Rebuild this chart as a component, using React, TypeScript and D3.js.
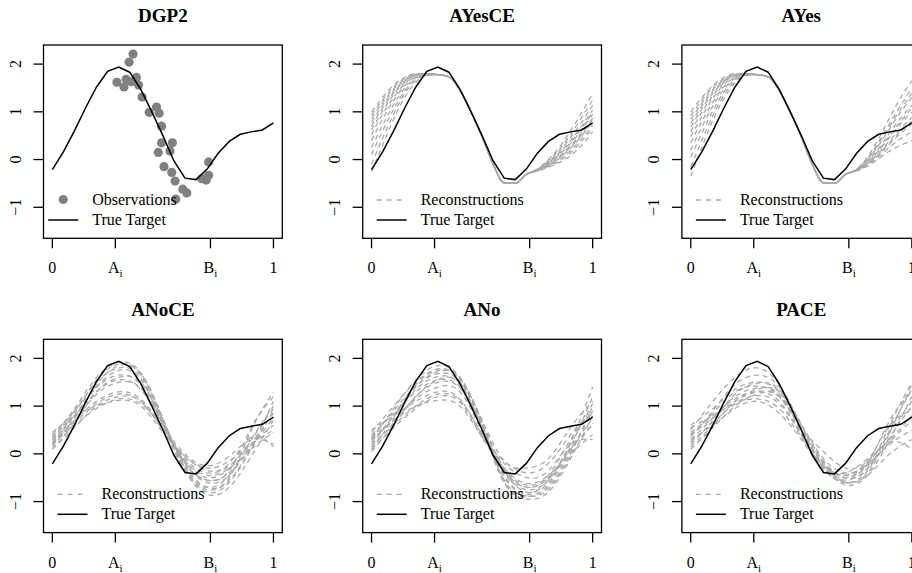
import React from "react";
import * as d3 from "d3";

// ---------- data ----------
const xGrid21 = [0, 0.05, 0.1, 0.15, 0.2, 0.25, 0.3, 0.35, 0.4, 0.45, 0.5, 0.55, 0.6, 0.65, 0.7, 0.75, 0.8, 0.85, 0.9, 0.95, 1];
const xGrid11 = [0, 0.1, 0.2, 0.3, 0.4, 0.5, 0.6, 0.7, 0.8, 0.9, 1];

const trueTarget = [-0.21, 0.16, 0.6, 1.08, 1.52, 1.85, 1.94, 1.83, 1.47, 1.0, 0.5, -0.03, -0.39, -0.42, -0.2, 0.13, 0.38, 0.53, 0.58, 0.62, 0.77];

const obsX = [0.292, 0.324, 0.334, 0.347, 0.365, 0.357, 0.38, 0.39, 0.406, 0.438, 0.471, 0.483, 0.494, 0.494, 0.479, 0.505, 0.532, 0.543, 0.54, 0.555, 0.59, 0.608, 0.558, 0.676, 0.696, 0.707, 0.707];
const obsY = [1.62, 1.52, 1.68, 2.04, 2.21, 1.63, 1.72, 1.56, 1.31, 0.99, 1.1, 0.97, 0.7, 0.35, 0.15, -0.15, 0.18, 0.35, -0.27, -0.45, -0.62, -0.7, -0.83, -0.4, -0.43, -0.33, -0.05];

const xTickVals = [0, 0.285, 0.715, 1];
const xTickMain = ["0", "A", "B", "1"];
const xTickSub = ["", "i", "i", ""];
const yTickVals = [-1, 0, 1, 2];
const yTickLabels = ["\u22121", "0", "1", "2"];

const titles = ["DGP2", "AYesCE", "AYes", "ANoCE", "ANo", "PACE"];

// AYes-type reconstructions: shared middle (t = 0.30 .. 0.70)
const ayesMid = [1.78, 1.73, 1.45, 1.0, 0.48, -0.1, -0.49, -0.5, -0.31];

// AYesCE left parts (t = 0 .. 0.25)
const ayesceLeft = [
  [-0.25, 0.3, 0.85, 1.3, 1.62, 1.76],
  [-0.1, 0.45, 0.95, 1.38, 1.66, 1.77],
  [0.1, 0.6, 1.05, 1.44, 1.69, 1.77],
  [0.25, 0.72, 1.15, 1.5, 1.71, 1.78],
  [0.4, 0.85, 1.24, 1.55, 1.73, 1.78],
  [0.52, 0.95, 1.3, 1.59, 1.75, 1.79],
  [0.62, 1.02, 1.36, 1.62, 1.76, 1.79],
  [0.7, 1.08, 1.4, 1.64, 1.77, 1.79],
  [0.78, 1.14, 1.44, 1.66, 1.78, 1.8],
  [0.86, 1.2, 1.48, 1.68, 1.78, 1.8],
  [0.93, 1.25, 1.52, 1.7, 1.79, 1.8],
  [1.0, 1.3, 1.56, 1.72, 1.8, 1.8],
];
// AYesCE right parts (t = 0.75 .. 1)
const ayesceRight = [
  [-0.24, -0.16, -0.06, 0.08, 0.3, 0.58],
  [-0.24, -0.15, -0.03, 0.14, 0.38, 0.66],
  [-0.23, -0.13, 0.0, 0.19, 0.44, 0.72],
  [-0.23, -0.12, 0.03, 0.24, 0.5, 0.8],
  [-0.22, -0.1, 0.07, 0.29, 0.56, 0.87],
  [-0.22, -0.08, 0.1, 0.34, 0.62, 0.95],
  [-0.21, -0.06, 0.14, 0.4, 0.7, 1.04],
  [-0.21, -0.04, 0.18, 0.46, 0.78, 1.14],
  [-0.2, -0.02, 0.22, 0.52, 0.88, 1.25],
  [-0.2, 0.0, 0.26, 0.6, 0.98, 1.38],
  [-0.22, -0.11, 0.05, 0.26, 0.52, 0.84],
  [-0.21, -0.07, 0.12, 0.36, 0.65, 0.99],
];
// AYes left parts
const ayesLeft = [
  [-0.35, 0.25, 0.82, 1.28, 1.6, 1.76],
  [-0.15, 0.4, 0.92, 1.35, 1.64, 1.77],
  [0.05, 0.55, 1.02, 1.42, 1.68, 1.77],
  [0.2, 0.68, 1.12, 1.48, 1.7, 1.78],
  [0.35, 0.8, 1.2, 1.53, 1.72, 1.78],
  [0.48, 0.9, 1.28, 1.57, 1.74, 1.79],
  [0.58, 0.99, 1.34, 1.61, 1.76, 1.79],
  [0.68, 1.06, 1.39, 1.63, 1.77, 1.79],
  [0.76, 1.12, 1.43, 1.65, 1.78, 1.8],
  [0.84, 1.18, 1.47, 1.67, 1.78, 1.8],
  [0.92, 1.24, 1.51, 1.69, 1.79, 1.8],
  [1.0, 1.3, 1.55, 1.72, 1.8, 1.8],
];
// AYes right parts
const ayesRight = [
  [-0.24, -0.14, 0.02, 0.18, 0.3, 0.4],
  [-0.24, -0.12, 0.06, 0.26, 0.44, 0.58],
  [-0.23, -0.1, 0.1, 0.33, 0.55, 0.74],
  [-0.23, -0.08, 0.14, 0.4, 0.65, 0.88],
  [-0.22, -0.06, 0.19, 0.47, 0.75, 1.0],
  [-0.22, -0.03, 0.24, 0.56, 0.87, 1.14],
  [-0.21, 0.0, 0.3, 0.65, 1.0, 1.3],
  [-0.21, 0.03, 0.37, 0.76, 1.14, 1.48],
  [-0.2, 0.06, 0.44, 0.88, 1.3, 1.65],
  [-0.22, -0.05, 0.2, 0.5, 0.8, 1.08],
  [-0.23, -0.09, 0.12, 0.36, 0.6, 0.8],
  [-0.21, 0.01, 0.33, 0.7, 1.06, 1.38],
];

// ANoCE reconstructions (t = 0, 0.1, ..., 1)
const anoceCurves = [
  [0.35, 0.95, 1.6, 1.92, 1.7, 0.75, -0.3, -0.8, -0.6, 0.1, 0.9],
  [0.25, 0.85, 1.55, 1.88, 1.65, 0.7, -0.35, -0.85, -0.7, -0.05, 0.7],
  [0.3, 0.9, 1.5, 1.8, 1.6, 0.65, -0.3, -0.75, -0.55, 0.15, 1.1],
  [0.15, 0.75, 1.45, 1.85, 1.68, 0.72, -0.25, -0.7, -0.5, 0.5, 1.3],
  [0.2, 0.8, 1.4, 1.75, 1.55, 0.6, -0.35, -0.7, -0.45, 0.3, 1.0],
  [0.4, 0.9, 1.4, 1.65, 1.45, 0.65, -0.2, -0.6, -0.45, 0.2, 0.85],
  [0.1, 0.65, 1.3, 1.6, 1.5, 0.7, -0.2, -0.55, -0.35, 0.55, 1.2],
  [0.35, 0.8, 1.3, 1.55, 1.35, 0.6, -0.2, -0.55, -0.4, 0.15, 0.75],
  [0.2, 0.7, 1.25, 1.5, 1.38, 0.62, -0.15, -0.5, -0.3, 0.3, 0.95],
  [0.3, 0.7, 1.1, 1.3, 1.15, 0.55, -0.1, -0.4, -0.25, 0.2, 0.6],
  [0.25, 0.65, 1.05, 1.25, 1.1, 0.5, -0.15, -0.45, -0.3, 0.1, 0.45],
  [0.45, 0.8, 1.0, 1.12, 1.0, 0.45, -0.05, -0.3, -0.15, 0.2, 0.5],
  [0.2, 0.6, 0.95, 1.15, 1.05, 0.55, 0.0, -0.25, -0.05, 0.3, 0.2],
  [0.1, 0.55, 1.0, 1.2, 1.1, 0.5, -0.05, -0.35, -0.2, 0.35, 0.15],
];

// ANo reconstructions
const anoCurves = [
  [0.3, 0.95, 1.55, 1.85, 1.6, 0.6, -0.6, -0.95, -0.8, -0.1, 0.8],
  [0.45, 1.0, 1.5, 1.78, 1.55, 0.55, -0.6, -0.9, -0.7, 0.0, 1.0],
  [0.2, 0.8, 1.45, 1.75, 1.58, 0.65, -0.55, -0.88, -0.75, -0.05, 0.65],
  [0.1, 0.75, 1.4, 1.72, 1.6, 0.68, -0.35, -0.8, -0.6, 0.15, 1.2],
  [0.35, 0.9, 1.42, 1.68, 1.5, 0.55, -0.45, -0.85, -0.65, 0.05, 0.9],
  [0.25, 0.8, 1.35, 1.62, 1.45, 0.5, -0.5, -0.82, -0.55, 0.25, 1.4],
  [0.4, 0.85, 1.3, 1.55, 1.4, 0.55, -0.35, -0.7, -0.5, 0.2, 1.05],
  [0.15, 0.65, 1.2, 1.5, 1.38, 0.6, -0.3, -0.65, -0.45, 0.3, 0.85],
  [0.3, 0.7, 1.15, 1.4, 1.3, 0.45, -0.4, -0.75, -0.55, 0.1, 0.75],
  [0.2, 0.6, 1.0, 1.25, 1.12, 0.4, -0.35, -0.7, -0.5, 0.1, 0.6],
  [0.1, 0.55, 0.95, 1.2, 1.08, 0.35, -0.3, -0.62, -0.45, 0.0, 0.4],
  [0.35, 0.7, 1.0, 1.12, 1.0, 0.35, -0.2, -0.5, -0.35, 0.2, 0.3],
  [0.5, 0.8, 1.1, 1.3, 1.15, 0.4, -0.15, -0.4, -0.2, 0.4, 0.9],
  [0.05, 0.6, 1.2, 1.55, 1.5, 0.7, -0.15, -0.3, -0.1, 0.55, 1.1],
];

// PACE reconstructions
const paceCurves = [
  [0.5, 1.1, 1.6, 1.8, 1.45, 0.6, -0.2, -0.6, -0.4, 0.45, 1.45],
  [0.35, 0.9, 1.45, 1.65, 1.4, 0.55, -0.25, -0.65, -0.45, 0.3, 1.2],
  [0.6, 0.95, 1.35, 1.5, 1.3, 0.5, -0.3, -0.6, -0.35, 0.5, 1.35],
  [0.2, 0.7, 1.25, 1.48, 1.35, 0.6, -0.15, -0.5, -0.3, 0.6, 1.5],
  [0.4, 0.85, 1.3, 1.42, 1.2, 0.45, -0.3, -0.55, -0.3, 0.35, 1.0],
  [0.3, 0.75, 1.2, 1.38, 1.25, 0.5, -0.2, -0.45, -0.2, 0.45, 1.1],
  [0.15, 0.6, 1.1, 1.35, 1.3, 0.62, -0.1, -0.4, -0.15, 0.6, 0.9],
  [0.45, 0.8, 1.15, 1.3, 1.1, 0.4, -0.3, -0.5, -0.25, 0.25, 0.7],
  [0.25, 0.65, 1.05, 1.22, 1.05, 0.4, -0.25, -0.45, -0.2, 0.2, 0.5],
  [0.55, 0.8, 1.05, 1.15, 0.95, 0.35, -0.25, -0.4, -0.1, 0.3, 0.8],
  [0.3, 0.6, 0.95, 1.1, 0.85, 0.3, -0.32, -0.6, -0.45, 0.0, 0.3],
  [0.1, 0.55, 1.0, 1.25, 1.2, 0.55, 0.05, -0.3, -0.15, 0.25, 0.1],
  [0.4, 0.75, 1.1, 1.3, 1.2, 0.5, -0.2, -0.5, -0.2, 0.7, 1.3],
];

// ---------- layout ----------
const W = 912;
const H = 573;
const BOX_W = 238.8;
const BOX_H = 193.3;
const COL_PITCH = 319.2;
const ROW_PITCH = 294.3;
const BOX_X0 = 43.5;
const BOX_Y0 = 45;

const FONT = "'Liberation Serif', 'Times New Roman', Times, serif";
const RECON_COLOR = "#a9a9a9";
const OBS_COLOR = "#808080";

type PanelSpec = {
  title: string;
  kind: "obs" | "recon";
  curves?: number[][];
  grid?: number[];
  smooth?: d3.CurveFactory;
};

function buildPanels(): PanelSpec[] {
  const ayesce = ayesceLeft.map((l, i) => [...l, ...ayesMid, ...ayesceRight[i]]);
  const ayes = ayesLeft.map((l, i) => [...l, ...ayesMid, ...ayesRight[i]]);
  return [
    { title: titles[0], kind: "obs" },
    { title: titles[1], kind: "recon", curves: ayesce, grid: xGrid21, smooth: d3.curveMonotoneX },
    { title: titles[2], kind: "recon", curves: ayes, grid: xGrid21, smooth: d3.curveMonotoneX },
    { title: titles[3], kind: "recon", curves: anoceCurves, grid: xGrid11, smooth: d3.curveNatural },
    { title: titles[4], kind: "recon", curves: anoCurves, grid: xGrid11, smooth: d3.curveNatural },
    { title: titles[5], kind: "recon", curves: paceCurves, grid: xGrid11, smooth: d3.curveNatural },
  ];
}

function Panel({ spec, idx }: { spec: PanelSpec; idx: number }) {
  const col = idx % 3;
  const row = Math.floor(idx / 3);
  const left = BOX_X0 + col * COL_PITCH;
  const top = BOX_Y0 + row * ROW_PITCH;
  const right = left + BOX_W;
  const bottom = top + BOX_H;

  const x = d3.scaleLinear().domain([-0.04, 1.04]).range([left, right]);
  const y = d3.scaleLinear().domain([-1.65, 2.4]).range([bottom, top]);

  const clipId = `clip-${idx}`;

  const trueLine = d3
    .line<number>()
    .x((_, i) => x(xGrid21[i]))
    .y((d) => y(d))
    .curve(d3.curveLinear);

  let reconPaths: string[] = [];
  if (spec.kind === "recon" && spec.curves && spec.grid) {
    const g = spec.grid;
    const gen = d3
      .line<number>()
      .x((_, i) => x(g[i]))
      .y((d) => y(d))
      .curve(spec.smooth || d3.curveLinear);
    reconPaths = spec.curves.map((c) => gen(c) || "");
  }

  return (
    <g>
      <defs>
        <clipPath id={clipId}>
          <rect x={left} y={top} width={BOX_W} height={BOX_H} />
        </clipPath>
      </defs>
      <text
        x={(left + right) / 2}
        y={top - 23.3}
        textAnchor="middle"
        fontWeight="bold"
        fontSize={19}
        fontFamily={FONT}
      >
        {spec.title}
      </text>
      <g clipPath={`url(#${clipId})`}>
        {reconPaths.map((d, i) => (
          <path
            key={i}
            d={d}
            fill="none"
            stroke={RECON_COLOR}
            strokeWidth={1.3}
            strokeDasharray="5,4"
          />
        ))}
        {spec.kind === "obs" &&
          obsX.map((ox, i) => (
            <circle key={i} cx={x(ox)} cy={y(obsY[i])} r={4.6} fill={OBS_COLOR} />
          ))}
        <path d={trueLine(trueTarget) || ""} fill="none" stroke="#000" strokeWidth={1.5} />
      </g>
      <rect x={left} y={top} width={BOX_W} height={BOX_H} fill="none" stroke="#000" strokeWidth={1.3} />
      {/* x axis ticks */}
      {xTickVals.map((t, i) => (
        <g key={`xt${i}`}>
          <line x1={x(t)} x2={x(t)} y1={bottom} y2={bottom + 10} stroke="#000" strokeWidth={1.3} />
          <text x={x(t)} y={bottom + 35} textAnchor="middle" fontSize={16} fontFamily={FONT}>
            {xTickMain[i]}
            {xTickSub[i] ? (
              <tspan fontSize={11} dy={4}>
                {xTickSub[i]}
              </tspan>
            ) : null}
          </text>
        </g>
      ))}
      {/* y axis ticks */}
      {yTickVals.map((v, i) => (
        <g key={`yt${i}`}>
          <line x1={left - 10} x2={left} y1={y(v)} y2={y(v)} stroke="#000" strokeWidth={1.3} />
          <text
            transform={`translate(${left - 22.5},${y(v)}) rotate(-90)`}
            textAnchor="middle"
            fontSize={16}
            fontFamily={FONT}
          >
            {yTickLabels[i]}
          </text>
        </g>
      ))}
      {/* legend */}
      {spec.kind === "obs" ? (
        <g>
          <circle cx={left + 19.7} cy={top + 154.5} r={4.6} fill={OBS_COLOR} />
          <line x1={left + 4.7} x2={left + 34.7} y1={top + 175} y2={top + 175} stroke="#000" strokeWidth={1.5} />
          <text x={left + 48.7} y={top + 160} fontSize={16} fontFamily={FONT}>
            Observations
          </text>
          <text x={left + 48.7} y={top + 180} fontSize={16} fontFamily={FONT}>
            True Target
          </text>
        </g>
      ) : (
        <g>
          <line
            x1={left + 14}
            x2={left + 44}
            y1={top + 155}
            y2={top + 155}
            stroke={RECON_COLOR}
            strokeWidth={1.3}
            strokeDasharray="5,5"
          />
          <line x1={left + 14} x2={left + 44} y1={top + 175} y2={top + 175} stroke="#000" strokeWidth={1.5} />
          <text x={left + 58} y={top + 160} fontSize={16} fontFamily={FONT}>
            Reconstructions
          </text>
          <text x={left + 58} y={top + 180} fontSize={16} fontFamily={FONT}>
            True Target
          </text>
        </g>
      )}
    </g>
  );
}

export default function App() {
  const panels = buildPanels();
  return (
    <div style={{ position: "absolute", left: 0, top: 0, width: W, height: H, overflow: "hidden", background: "#fff" }}>
      <svg width={W} height={H} style={{ display: "block" }}>
        <rect x={0} y={0} width={W} height={H} fill="#fff" />
        {panels.map((p, i) => (
          <Panel key={i} spec={p} idx={i} />
        ))}
      </svg>
    </div>
  );
}
